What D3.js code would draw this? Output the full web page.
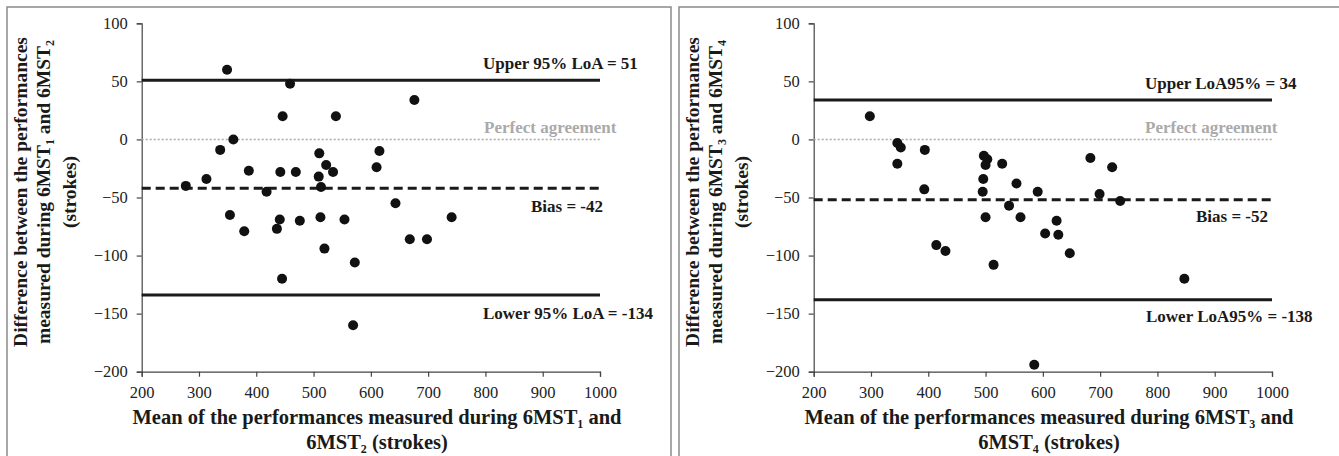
<!DOCTYPE html>
<html>
<head>
<meta charset="utf-8">
<script src="https://cdn.jsdelivr.net/npm/d3@7"></script>
<style>
  body { margin: 0; background: #fff; }
  svg { display: block; }
  .bold { font-family: "Liberation Serif", "Times New Roman", serif; font-weight: bold; fill: #1a1a1a; }
</style>
</head>
<body>
<script>
// Bland-Altman data
var mean12 = [349, 459, 676, 446, 539, 360, 337, 615, 510, 522, 610, 387, 442, 469, 534, 313, 509, 277,
              513, 418, 643, 354, 379, 441, 436, 476, 512, 554, 741, 668, 698, 519, 572, 445, 569];
var diff12 = [60, 48, 34, 20, 20, 0, -9, -10, -12, -22, -24, -27, -28, -28, -28, -34, -32, -40,
              -41, -45, -55, -65, -79, -69, -77, -70, -67, -69, -67, -86, -86, -94, -106, -120, -160];

var mean34 = [298, 346, 352, 346, 394, 393, 497, 503, 500, 529, 496, 495, 541, 500, 414,
              430, 514, 554, 591, 683, 721, 699, 735, 561, 624, 604, 627, 647, 847, 585];
var diff34 = [20, -3, -7, -21, -9, -43, -14, -17, -22, -21, -34, -45, -57, -67, -91,
              -96, -108, -38, -45, -16, -24, -47, -53, -67, -70, -81, -82, -98, -120, -194];

var stats12 = [51, -42, -134];   // upper LoA, bias, lower LoA
var stats34 = [34, -52, -138];

var xTicks = [200, 300, 400, 500, 600, 700, 800, 900, 1000];
var yTicks = [100, 50, 0, -50, -100, -150, -200];

var W = 1339, H = 456;
var serif = '"Liberation Serif", "Times New Roman", serif';

var svg = d3.select("body").append("svg")
    .attr("width", W)
    .attr("height", H);

var panels = [
  { dx: 0, mean: mean12, diff: diff12, stats: stats12, a: "1", b: "2",
    upper: "Upper 95% LoA = 51", bias: "Bias = -42", lower: "Lower 95% LoA = -134",
    upX: 483, upY: 69, pfX: 484, biasX: 603, biasY: 212, loX: 483, loY: 319 },
  { dx: 672, mean: mean34, diff: diff34, stats: stats34, a: "3", b: "4",
    upper: "Upper LoA95% = 34", bias: "Bias = -52", lower: "Lower LoA95% = -138",
    upX: 473, upY: 89, pfX: 473, biasX: 596, biasY: 222, loX: 474, loY: 322 }
];

// panel frames
svg.append("rect").attr("x", 7).attr("y", 7).attr("width", 664).attr("height", 470)
    .attr("fill", "none").attr("stroke", "#8a8a8a").attr("stroke-width", 1.5);
svg.append("rect").attr("x", 679).attr("y", 7).attr("width", 700).attr("height", 470)
    .attr("fill", "none").attr("stroke", "#8a8a8a").attr("stroke-width", 1.5);

function subText(sel, parts) {
  // parts: [text, sub, text, sub, ...]
  parts.forEach(function(p, i) {
    if (i % 2 == 0) {
      sel.append("tspan").attr("dy", i == 0 ? 0 : -4).text(p);
    } else {
      sel.append("tspan").attr("dy", 4).style("font-size", "12px").text(p);
    }
  });
}

panels.forEach(function(p) {
  var g = svg.append("g").attr("transform", "translate(" + p.dx + ",0)");

  var x = d3.scaleLinear().domain([200, 1000]).range([141.7, 600]);
  var y = d3.scaleLinear().domain([-200, 100]).range([371.7, 23.3]);

  var yAxis = g.append("g")
      .attr("transform", "translate(" + x(200) + ",0)")
      .call(d3.axisLeft(y).tickValues(yTicks).tickFormat(d3.format("d")).tickSize(5).tickPadding(9));
  var xAxis = g.append("g")
      .attr("transform", "translate(0," + y(-200) + ")")
      .call(d3.axisBottom(x).tickValues(xTicks).tickFormat(d3.format("d")).tickSize(5).tickPadding(10));
  [xAxis, yAxis].forEach(function(a) {
    a.select(".domain").attr("stroke", "#444").attr("stroke-width", 1.2);
    a.selectAll(".tick line").attr("stroke", "#444").attr("stroke-width", 1.2);
    a.selectAll(".tick text")
        .style("font-family", serif)
        .style("font-size", "16.5px")
        .style("fill", "#222");
  });

  // reference lines
  g.append("line").attr("x1", x(200)).attr("x2", x(1000)).attr("y1", y(0)).attr("y2", y(0))
      .attr("stroke", "#aaa").attr("stroke-width", 1.6).attr("stroke-dasharray", "2,2");
  g.append("line").attr("x1", x(200)).attr("x2", x(1000)).attr("y1", y(p.stats[0])).attr("y2", y(p.stats[0]))
      .attr("stroke", "#1a1a1a").attr("stroke-width", 3);
  g.append("line").attr("x1", x(200)).attr("x2", x(1000)).attr("y1", y(p.stats[2])).attr("y2", y(p.stats[2]))
      .attr("stroke", "#1a1a1a").attr("stroke-width", 3);
  g.append("line").attr("x1", x(200)).attr("x2", x(1000)).attr("y1", y(p.stats[1])).attr("y2", y(p.stats[1]))
      .attr("stroke", "#1a1a1a").attr("stroke-width", 3).attr("stroke-dasharray", "9,5");

  // points
  g.selectAll(".dot")
      .data(d3.range(p.mean.length))
    .enter().append("circle")
      .attr("class", "dot")
      .attr("cx", function(i) { return x(p.mean[i]); })
      .attr("cy", function(i) { return y(p.diff[i]); })
      .attr("r", 5)
      .attr("fill", "#111");

  // line labels
  g.append("text").attr("class", "bold").attr("x", p.upX).attr("y", p.upY)
      .style("font-size", "17px").text(p.upper);
  g.append("text").attr("class", "bold").attr("x", p.pfX).attr("y", 133)
      .style("font-size", "17px").style("fill", "#aaa").text("Perfect agreement");
  g.append("text").attr("class", "bold").attr("x", p.biasX).attr("y", p.biasY)
      .attr("text-anchor", "end").style("font-size", "17px").text(p.bias);
  g.append("text").attr("class", "bold").attr("x", p.loX).attr("y", p.loY)
      .style("font-size", "17px").text(p.lower);

  // x title
  var xt1 = g.append("text").attr("class", "bold").attr("x", 377).attr("y", 424)
      .attr("text-anchor", "middle").style("font-size", "20.5px");
  subText(xt1, ["Mean of the performances measured during 6MST", p.a, " and"]);
  var xt2 = g.append("text").attr("class", "bold").attr("x", 377).attr("y", 449)
      .attr("text-anchor", "middle").style("font-size", "20.5px");
  subText(xt2, ["6MST", p.b, " (strokes)"]);

  // y title
  var yt = g.append("g").attr("transform", "translate(0,192) rotate(-90)");
  yt.append("text").attr("class", "bold").attr("x", 0).attr("y", 27)
      .attr("text-anchor", "middle").style("font-size", "19.5px")
      .text("Difference between the performances");
  var yt2 = yt.append("text").attr("class", "bold").attr("x", 0).attr("y", 50)
      .attr("text-anchor", "middle").style("font-size", "19.5px");
  subText(yt2, ["measured during 6MST", p.a, " and 6MST", p.b, ""]);
  yt.append("text").attr("class", "bold").attr("x", 0).attr("y", 76)
      .attr("text-anchor", "middle").style("font-size", "19.5px")
      .text("(strokes)");
});
</script>
</body>
</html>
